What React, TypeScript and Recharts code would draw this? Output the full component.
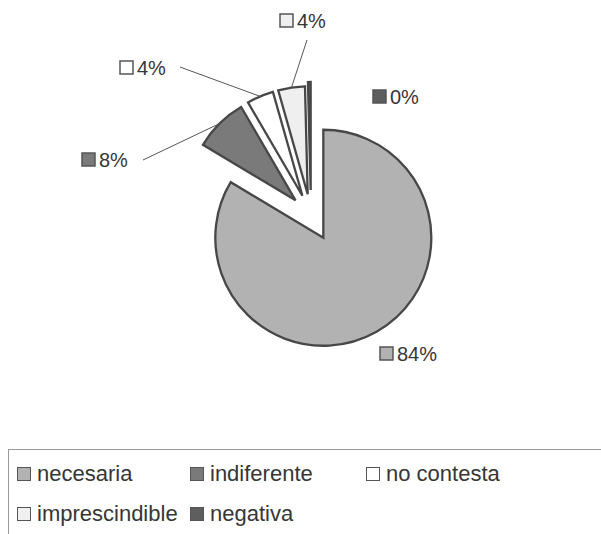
import React from 'react';
import { PieChart, Pie, Sector, Legend } from 'recharts';

const categories = ['necesaria', 'indiferente', 'no contesta', 'imprescindible', 'negativa'];
const shares = [83.6, 8.0, 4.0, 4.0, 0.4];

const COLORS = ['#b2b2b2', '#7a7a7a', '#ffffff', '#efefef', '#5e5e5e'];
const EXPLODE = [25, 22, 22, 22, 26];
// label anchor (left of swatch, vertical middle), relative to pie centre
const LABEL_AT = [[69, 138], [-229, -56], [-191, -148], [-31, -195], [62, -119]];
// where a leader line leaves the label, relative to its anchor (null = no line)
const LEADER_FROM: (number[] | null)[] = [null, [61, 0], [60, -1], [27, 19], null];

const data = categories.map((name, i) => ({ name, value: shares[i] }));

const FONT = '"Liberation Sans", Arial, sans-serif';
const RAD = Math.PI / 180;

const renderSlice = (props: any) => {
  const { cx, cy, outerRadius, startAngle, endAngle, index, percent } = props;
  const mid = (startAngle + endAngle) / 2;
  const ex = EXPLODE[index];
  const ox = cx + ex * Math.cos(-mid * RAD);
  const oy = cy + ex * Math.sin(-mid * RAD);
  const [lx, ly] = LABEL_AT[index];
  const ax = cx + lx;
  const ay = cy + ly;
  const from = LEADER_FROM[index];
  const arcX = ox + outerRadius * Math.cos(-mid * RAD);
  const arcY = oy + outerRadius * Math.sin(-mid * RAD);
  return (
    <g>
      <Sector
        cx={ox}
        cy={oy}
        innerRadius={0}
        outerRadius={outerRadius}
        startAngle={startAngle}
        endAngle={endAngle}
        fill={COLORS[index]}
        stroke="#474747"
        strokeWidth={2.3}
      />
      {from && (
        <line x1={ax + from[0]} y1={ay + from[1]} x2={arcX} y2={arcY} stroke="#555" strokeWidth={1} />
      )}
      <rect x={ax} y={ay - 7} width={13} height={13} fill={COLORS[index]} stroke="#555" strokeWidth={1.5} />
      <text x={ax + 17} y={ay} dy="0.36em" fontFamily={FONT} fontSize={20} fill="#363636">
        {`${Math.round(percent * 100)}%`}
      </text>
    </g>
  );
};

const LegendBox = () => (
  <div
    style={{
      width: 620,
      height: 100,
      border: '1px solid #9a9a9a',
      boxSizing: 'border-box',
      paddingTop: 4,
      paddingLeft: 8,
      display: 'grid',
      gridTemplateColumns: '173px 176px auto',
      gridAutoRows: '40px',
      fontFamily: FONT,
      fontSize: 22,
      color: '#363636',
    }}
  >
    {categories.map((c, i) => (
      <div key={c} style={{ display: 'flex', alignItems: 'center', whiteSpace: 'nowrap' }}>
        <span
          style={{
            width: 14,
            height: 14,
            boxSizing: 'border-box',
            background: COLORS[i],
            border: '1.5px solid #555',
            marginRight: 6,
            flexShrink: 0,
          }}
        />
        {c}
      </div>
    ))}
  </div>
);

export default function App() {
  return (
    <div style={{ position: 'absolute', left: 0, top: 0, width: 601, height: 534, overflow: 'hidden', background: '#fff' }}>
      <PieChart width={601} height={534} margin={{ top: 0, right: 0, bottom: 0, left: 0 }}>
        <Pie
          data={data}
          dataKey="value"
          nameKey="name"
          cx={311}
          cy={216}
          outerRadius={108}
          startAngle={90}
          endAngle={-270}
          fill="transparent"
          stroke="none"
          label={renderSlice}
          labelLine={false}
          isAnimationActive={false}
        />
        <Legend
          content={() => <LegendBox />}
          wrapperStyle={{ position: 'absolute', left: 8, top: 449, width: 620, height: 100 }}
        />
      </PieChart>
    </div>
  );
}
